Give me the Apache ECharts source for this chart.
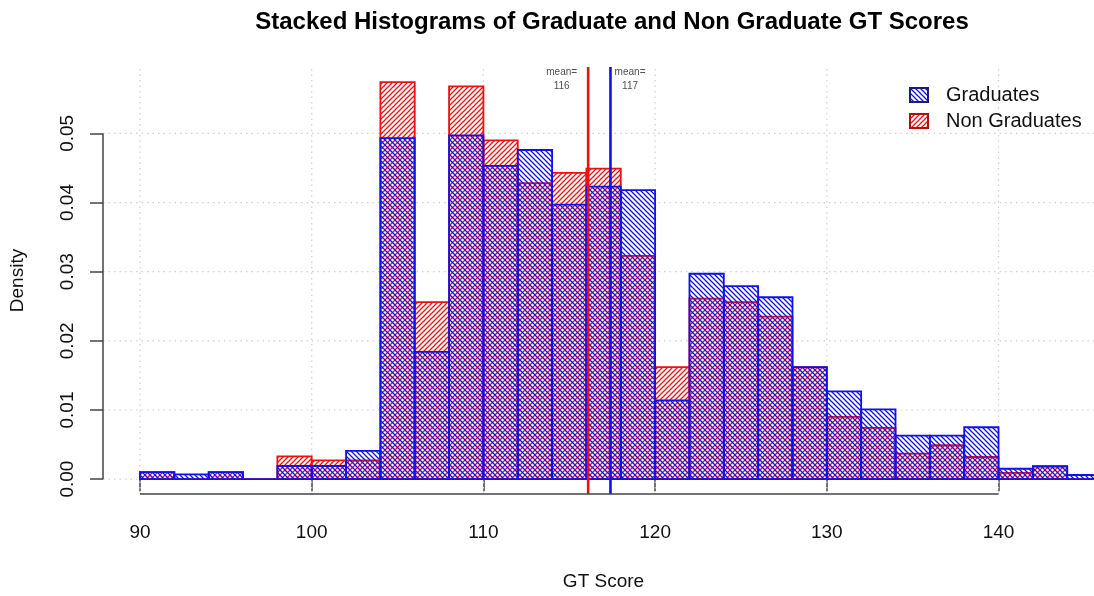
<!DOCTYPE html>
<html>
<head>
<meta charset="utf-8">
<script src="https://cdn.jsdelivr.net/npm/echarts@6/dist/echarts.min.js"></script>
<style>
  html, body { margin: 0; padding: 0; background: #fff; }
  #main { width: 1094px; height: 596px; }
</style>
</head>
<body>
<div id="main"></div>
<script>
// bins of width 2, left edges
var binStarts = [90, 92, 94, 96, 98, 100, 102, 104, 106, 108, 110, 112, 114, 116,
  118, 120, 122, 124, 126, 128, 130, 132, 134, 136, 138, 140, 142, 144];
var binWidth = 2;

// densities
var gradDensity = [0.0010, 0.0007, 0.0010, 0, 0.0019, 0.0019, 0.0041, 0.0493, 0.0184,
  0.0497, 0.0453, 0.0476, 0.0397, 0.0423, 0.0418, 0.0114, 0.0297, 0.0279, 0.0263,
  0.0162, 0.0127, 0.0101, 0.0063, 0.0063, 0.0075, 0.0015, 0.0018, 0.0006];
var nonGradDensity = [0.0010, 0, 0.0010, 0, 0.0033, 0.0027, 0.0027, 0.0574, 0.0256,
  0.0568, 0.0490, 0.0428, 0.0443, 0.0449, 0.0323, 0.0162, 0.0261, 0.0256, 0.0235,
  0.0162, 0.0090, 0.0074, 0.0037, 0.0049, 0.0032, 0.0009, 0.0019, 0];

var gradMean = 117.4;
var nonGradMean = 116.1;
var meanLabels = [
  { x: 114.56, text: 'mean=\n116' },
  { x: 118.54, text: 'mean=\n117' }
];

var xTicks = [90, 100, 110, 120, 130, 140];
var yTicks = [0, 0.01, 0.02, 0.03, 0.04, 0.05];

var xMin = 87.845, xMax = 145.56;
var yMin = -0.00215, yMax = 0.0596;

var BLUE = '#1010ee';
var RED = '#ee1010';

function hatch (color, dir) {
  var c = document.createElement('canvas');
  c.width = 5;
  c.height = 5;
  var ctx = c.getContext('2d');
  ctx.strokeStyle = color;
  ctx.lineWidth = 1.25;
  ctx.beginPath();
  if (dir > 0) {
    ctx.moveTo(0, 5); ctx.lineTo(5, 0);
    ctx.moveTo(-1, 1); ctx.lineTo(1, -1);
    ctx.moveTo(4, 6); ctx.lineTo(6, 4);
  } else {
    ctx.moveTo(0, 0); ctx.lineTo(5, 5);
    ctx.moveTo(4, -1); ctx.lineTo(6, 1);
    ctx.moveTo(-1, 4); ctx.lineTo(1, 6);
  }
  ctx.stroke();
  return { image: c, repeat: 'repeat' };
}

var bluePattern = hatch(BLUE, -1);
var redPattern = hatch(RED, 1);

function binData (values) {
  return binStarts.map(function (s, i) {
    return [s, s + binWidth, values[i]];
  });
}

function barRenderer (fill, stroke) {
  return function (params, api) {
    var p0 = api.coord([api.value(0), 0]);
    var p1 = api.coord([api.value(1), api.value(2)]);
    return {
      type: 'rect',
      shape: { x: p0[0], y: p1[1], width: p1[0] - p0[0], height: p0[1] - p1[1] },
      style: { fill: fill, stroke: stroke, lineWidth: 1.8 }
    };
  };
}

// dotted grid like R's grid()
var gridLines = xTicks.map(function (v) { return [v, yMin, v, yMax]; })
  .concat(yTicks.map(function (v) { return [xMin, v, xMax, v]; }));

function lineRenderer (style) {
  return function (params, api) {
    var a = api.coord([api.value(0), api.value(1)]);
    var b = api.coord([api.value(2), api.value(3)]);
    return {
      type: 'line',
      shape: { x1: a[0], y1: a[1], x2: b[0], y2: b[1] },
      style: style
    };
  };
}

var axisLines = [
  [xTicks[0], yMin, xTicks[xTicks.length - 1], yMin],
  [xMin, yTicks[0], xMin, yTicks[yTicks.length - 1]]
];

var meanLines = [
  [nonGradMean, yMin, nonGradMean, yMax, RED],
  [gradMean, yMin, gradMean, yMax, BLUE]
];

var myChart = echarts.init(document.getElementById('main'));
myChart.setOption({
  animation: false,
  textStyle: { fontFamily: 'Liberation Sans, Arial, sans-serif' },
  title: {
    text: 'Stacked Histograms of Graduate and Non Graduate GT Scores',
    left: 607,
    top: 5,
    textAlign: 'center',
    textStyle: { fontSize: 24, fontWeight: 'bold', color: '#000' }
  },
  legend: {
    orient: 'vertical',
    left: 904,
    top: 80,
    itemWidth: 18,
    itemHeight: 14,
    itemGap: 6,
    icon: 'rect',
    data: ['Graduates', 'Non Graduates'],
    textStyle: { fontSize: 20, color: '#111', padding: [0, 0, 0, 13] }
  },
  grid: { left: 103, right: 0, top: 67, bottom: 98 },
  xAxis: {
    type: 'value',
    min: xMin,
    max: xMax,
    name: 'GT Score',
    nameLocation: 'middle',
    nameGap: 78,
    nameTextStyle: { fontSize: 19, color: '#111', padding: [0, 0, 0, 10] },
    axisLine: { show: false },
    axisTick: { show: true, customValues: xTicks, length: 12, lineStyle: { color: '#444', width: 1.5 } },
    axisLabel: { customValues: xTicks, fontSize: 19, color: '#111', margin: 29 },
    splitLine: { show: false }
  },
  yAxis: {
    type: 'value',
    min: yMin,
    max: yMax,
    name: 'Density',
    nameLocation: 'middle',
    nameGap: 76,
    nameRotate: 90,
    nameTextStyle: { fontSize: 19, color: '#111' },
    axisLine: { show: false },
    axisTick: { show: true, customValues: yTicks, length: 13, lineStyle: { color: '#444', width: 1.5 } },
    axisLabel: {
      customValues: yTicks,
      rotate: 90,
      fontSize: 19,
      color: '#111',
      margin: 26,
      formatter: function (v) { return v.toFixed(2); }
    },
    splitLine: { show: false }
  },
  series: [
    {
      type: 'custom',
      name: 'grid',
      silent: true,
      z: 1,
      data: gridLines,
      renderItem: lineRenderer({ stroke: '#cfcfcf', lineWidth: 1.2, lineDash: [1.5, 4] })
    },
    {
      type: 'custom',
      name: 'Non Graduates',
      z: 2,
      clip: true,
      itemStyle: { color: redPattern, borderColor: '#b01010', borderWidth: 1.5 },
      encode: { x: [0, 1], y: 2 },
      data: binData(nonGradDensity),
      renderItem: barRenderer(redPattern, RED)
    },
    {
      type: 'custom',
      name: 'Graduates',
      z: 3,
      clip: true,
      itemStyle: { color: bluePattern, borderColor: '#1a1a80', borderWidth: 1.5 },
      encode: { x: [0, 1], y: 2 },
      data: binData(gradDensity),
      renderItem: barRenderer(bluePattern, BLUE)
    },
    {
      type: 'custom',
      name: 'means',
      silent: true,
      z: 4,
      data: meanLines,
      renderItem: function (params, api) {
        var a = api.coord([api.value(0), api.value(1)]);
        var b = api.coord([api.value(2), api.value(3)]);
        return {
          type: 'line',
          shape: { x1: a[0], y1: a[1], x2: b[0], y2: b[1] },
          style: { stroke: meanLines[params.dataIndex][4], lineWidth: 2.6 }
        };
      }
    },
    {
      type: 'custom',
      name: 'axes',
      silent: true,
      z: 5,
      data: axisLines,
      renderItem: lineRenderer({ stroke: '#444', lineWidth: 1.5 })
    },
    {
      type: 'scatter',
      name: 'meanText',
      silent: true,
      z: 6,
      symbolSize: 0,
      data: meanLabels.map(function (m) { return { value: [m.x, 0.0579], label: { formatter: m.text } }; }),
      label: {
        show: true,
        position: 'inside',
        fontSize: 10,
        lineHeight: 14,
        color: '#222',
        align: 'center'
      }
    }
  ]
});
window.onresize = function () {
  myChart.resize();
};
</script>
</body>
</html>
